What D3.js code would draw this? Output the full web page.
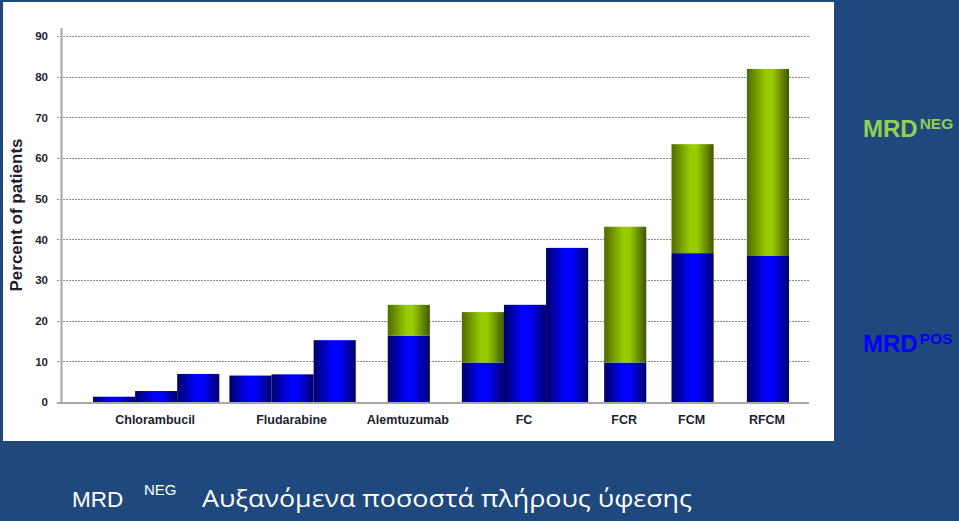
<!DOCTYPE html>
<html><head><meta charset="utf-8">
<script src="https://cdn.jsdelivr.net/npm/d3@7"></script>
<style>html,body{margin:0;padding:0;background:#1f497d;overflow:hidden}</style>
</head><body>
<svg id="c" width="959" height="521"></svg>
<script>
// ---- data ----
const categories = ["Chlorambucil","Fludarabine","Alemtuzumab","FC","FCR","FCM","RFCM"];
const barGroup   = [0,0,0, 1,1,1, 2, 3,3,3, 4, 5, 6];
const mrdPos     = [1.3,2.7,6.9, 6.5,6.8,15.2, 16.3, 9.7,23.9,37.9, 9.7, 36.6, 35.9];
const mrdNeg     = [0,0,0, 0,0,0, 7.6, 12.4,0,0, 33.4, 26.8, 46.0];
const yTicks     = [0,10,20,30,40,50,60,70,80,90];
const yLabel     = "Percent of patients";
const legendLabels = [{main:"MRD", sup:"NEG"},{main:"MRD", sup:"POS"}];
const title = {main:"MRD", sup:"NEG", rest:"Αυξανόμενα ποσοστά πλήρους ύφεσης"};

// ---- layout (bar-width units between groups) ----
const groupGap = [0.24,0.76,0.76,0.38,0.6,0.79];

const svg = d3.select("#c");
svg.append("rect").attr("width",959).attr("height",521).attr("fill","#1f497d");
svg.append("rect").attr("x",3).attr("y",2).attr("width",831).attr("height",439).attr("fill","#ffffff");

// unit positions
const starts = [];
let u = 0;
barGroup.forEach((g,i)=>{
  if (i>0 && g!==barGroup[i-1]) u += groupGap[barGroup[i-1]];
  starts.push(u); u += 1;
});
const x = d3.scaleLinear().domain([0,u]).range([93,789]);
const y = d3.scaleLinear().domain([0,90]).range([402,36]);

const defs = svg.append("defs");
function grad(id, edgeL, mid, edgeR){
  const g = defs.append("linearGradient").attr("id",id).attr("x1","0%").attr("x2","100%").attr("y1","0%").attr("y2","0%");
  g.append("stop").attr("offset","0%").attr("stop-color",edgeL);
  g.append("stop").attr("offset","45%").attr("stop-color",mid);
  g.append("stop").attr("offset","60%").attr("stop-color",mid);
  g.append("stop").attr("offset","100%").attr("stop-color",edgeR);
}
grad("gBlue","#00006a","#0000ff","#000070");
grad("gGreen","#4f6b00","#9acb00","#3f5800");

// gridlines
const grid = svg.append("g");
yTicks.filter(t=>t>0).forEach(t=>{
  grid.append("line").attr("x1",57).attr("x2",809).attr("y1",Math.round(y(t))+0.5).attr("y2",Math.round(y(t))+0.5)
    .attr("stroke","#8e8e8e").attr("stroke-width",1).attr("stroke-dasharray","2,1");
});

// y axis
const yAxis = d3.axisLeft(y).tickValues(yTicks).tickSize(0).tickPadding(13);
const ya = svg.append("g").attr("transform","translate(61,0)").call(yAxis);
ya.select(".domain").remove();
ya.selectAll("text").attr("font-family","Arial, Liberation Sans, sans-serif").attr("font-weight","bold")
  .attr("font-size","11.5px").attr("fill","#1e1e2e");
svg.append("line").attr("x1",61.5).attr("x2",61.5).attr("y1",28).attr("y2",403).attr("stroke","#a8a8a8").attr("stroke-width",2);

// bars
const bw = x(1)-x(0);
const bars = svg.append("g");
barGroup.forEach((g,i)=>{
  const x0 = x(starts[i]);
  bars.append("rect").attr("x",x0).attr("width",bw).attr("y",y(mrdPos[i])).attr("height",y(0)-y(mrdPos[i]))
    .attr("fill","url(#gBlue)");
  if (mrdNeg[i]>0){
    bars.append("rect").attr("x",x0).attr("width",bw).attr("y",y(mrdPos[i]+mrdNeg[i]))
      .attr("height",y(mrdPos[i])-y(mrdPos[i]+mrdNeg[i])).attr("fill","url(#gGreen)");
  }
});

// baseline
svg.append("line").attr("x1",57).attr("x2",809).attr("y1",403).attr("y2",403).attr("stroke","#a8a8a8").attr("stroke-width",2);

// category labels
categories.forEach((c,gi)=>{
  const idx = barGroup.map((g,i)=>g===gi?i:-1).filter(i=>i>=0);
  const cx = (x(starts[idx[0]]) + x(starts[idx[idx.length-1]]+1))/2;
  svg.append("text").attr("x",cx-1).attr("y",424).attr("text-anchor","middle")
    .attr("font-family","Arial, Liberation Sans, sans-serif").attr("font-weight","bold").attr("font-size","12.5px")
    .attr("fill","#1e1e2e").text(c);
});

// y label
svg.append("text").attr("transform","translate(22,215) rotate(-90)").attr("text-anchor","middle")
  .attr("font-family","Arial, Liberation Sans, sans-serif").attr("font-weight","bold").attr("font-size","17px")
  .attr("fill","#1e1e2e").text(yLabel);

// legend
const legColors = ["#92d050","#0000ff"];
const legY = [137,352];
legendLabels.forEach((l,i)=>{
  const t = svg.append("text").attr("x",863).attr("y",legY[i])
    .attr("font-family","Arial, Liberation Sans, sans-serif").attr("font-weight","bold").attr("fill",legColors[i]);
  t.append("tspan").attr("font-size","24px").text(l.main);
  t.append("tspan").attr("font-size","15.5px").attr("dy",-8).attr("dx",2).text(l.sup);
});

// bottom title
const tt = svg.append("text").attr("x",72).attr("y",507).attr("fill","#ffffff")
  .attr("font-family","Arial, Liberation Sans, sans-serif");
tt.append("tspan").attr("font-size","22.5px").text(title.main);
tt.append("tspan").attr("font-size","15px").attr("x",144).attr("dy",-12).text(title.sup);
svg.append("text").attr("x",202).attr("y",507).attr("fill","#ffffff")
  .attr("font-family","Open Sans, Arial, sans-serif").attr("font-size","23.5px")
  .attr("textLength",490).attr("lengthAdjust","spacingAndGlyphs").text(title.rest);
</script>
</body></html>
